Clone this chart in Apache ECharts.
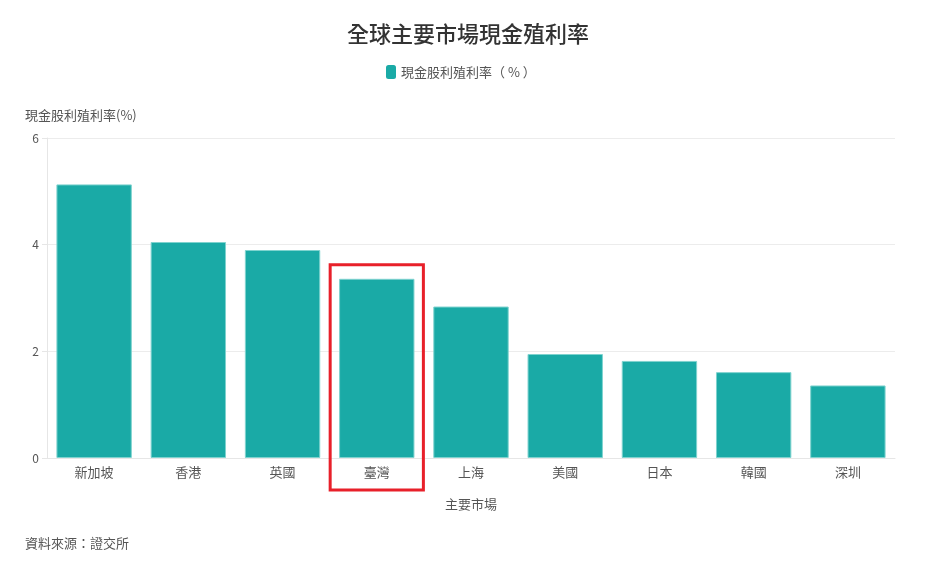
<!DOCTYPE html>
<html>
<head>
<meta charset="utf-8">
<script src="https://cdn.jsdelivr.net/npm/echarts@6/dist/echarts.min.js"></script>
<style>
	html, body { margin: 0; padding: 0; background: #fff; }
	#chart { width: 936px; height: 575px; }
</style>
</head>
<body>
<div id="chart"></div>
<script>
const markets = ['新加坡', '香港', '英國', '臺灣', '上海', '美國', '日本', '韓國', '深圳'];
const yieldValues = [5.13, 4.05, 3.9, 3.36, 2.84, 1.95, 1.82, 1.61, 1.36];
const yTicks = [0, 2, 4, 6];
const highlightMarket = '臺灣';
const seriesName = '現金股利殖利率（ % ）';

const font = '"Noto Sans CJK TC", "Noto Sans", sans-serif';
const axisGrey = '#e6e6e6';
const sourceText = {
	type: 'text',
	left: 25,
	top: 537,
	style: { text: '資料來源：證交所', fill: '#555', font: '13px ' + font }
};

function buildOption() {
	return {
		animation: false,
		textStyle: { fontFamily: font },
		title: {
			text: '全球主要市場現金殖利率',
			left: 'center',
			top: 18,
			textStyle: { fontSize: 22, fontWeight: 500, color: '#333', fontFamily: font }
		},
		legend: {
			top: 60,
			left: 381,
			icon: 'roundRect',
			itemWidth: 10,
			itemHeight: 14,
			itemGap: 4,
			itemStyle: { borderWidth: 0 },
			textStyle: { fontSize: 13, color: '#555', fontFamily: font },
			data: [seriesName]
		},
		grid: { left: 47, right: 41, top: 138, bottom: 117 },
		xAxis: {
			type: 'category',
			data: markets,
			name: '主要市場',
			nameLocation: 'middle',
			nameGap: 40,
			nameTextStyle: { fontSize: 13, color: '#555' },
			axisLine: { lineStyle: { color: axisGrey } },
			axisTick: { alignWithLabel: true, lineStyle: { color: axisGrey } },
			axisLabel: { fontSize: 13, color: '#555', margin: 8 }
		},
		yAxis: {
			type: 'value',
			min: yTicks[0],
			max: yTicks[yTicks.length - 1],
			interval: 2,
			name: '現金股利殖利率(%)',
			nameLocation: 'end',
			nameGap: 16,
			nameTextStyle: { fontSize: 13, color: '#555', align: 'left', padding: [0, 0, 0, -22] },
			axisLine: { show: true, lineStyle: { color: axisGrey } },
			axisTick: { show: true, lineStyle: { color: axisGrey } },
			axisLabel: { fontSize: 12, color: '#555' },
			splitLine: { lineStyle: { color: '#ececec' } }
		},
		series: [
			{
				name: seriesName,
				type: 'bar',
				data: yieldValues,
				barCategoryGap: '20%',
				itemStyle: {
					color: '#1aaaa6',
					borderColor: '#7fd3cf',
					borderWidth: 1
				}
			}
		],
		graphic: [sourceText]
	};
}

function addHighlight(chart) {
	const idx = markets.indexOf(highlightMarket);
	const top = chart.convertToPixel({ seriesIndex: 0 }, [idx, yieldValues[idx]]);
	const base = chart.convertToPixel({ seriesIndex: 0 }, [idx, 0]);
	const band = chart.convertToPixel({ xAxisIndex: 0 }, markets[1]) - chart.convertToPixel({ xAxisIndex: 0 }, markets[0]);
	const w = band - 1;
	chart.setOption({
		graphic: [
			sourceText,
			{
				type: 'rect',
				shape: { x: top[0] - w / 2, y: top[1] - 14, width: w, height: base[1] - top[1] + 46 },
				style: { fill: 'none', stroke: '#e8202a', lineWidth: 3 },
				z: 100
			}
		]
	});
}

window.addEventListener('load', () => {
	const chart = echarts.init(document.getElementById('chart'));
	chart.setOption(buildOption());
	addHighlight(chart);
	window.addEventListener('resize', () => chart.resize());
});
</script>
</body>
</html>
